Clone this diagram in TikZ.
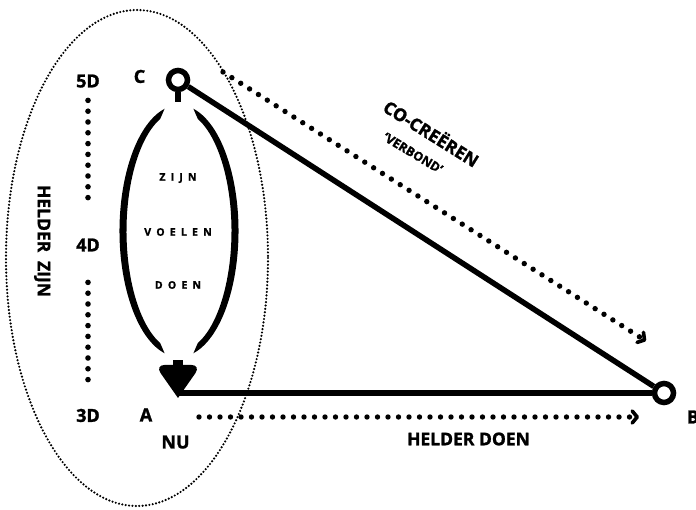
\documentclass[tikz,border=0pt]{standalone}
\usepackage{fontspec}
\setmainfont{Open Sans}
\newfontfamily\heavy{Open Sans}[BoldFeatures={FakeBold=1.4}]
\usetikzlibrary{arrows.meta}

\tikzset{
  tight/.style={inner sep=0pt, outer sep=0pt, text depth=0pt},
  lbl/.style={tight, font=\fontsize{18}{18}\heavy\bfseries, text height=12.8pt},
  mid/.style={tight, font=\fontsize{17.5}{17.5}\heavy\bfseries, text height=12.5pt},
  small/.style={tight, font=\fontsize{12.5}{12.5}\heavy\bfseries, text height=9pt},
  inner/.style={tight, font=\fontsize{10.5}{10.5}\heavy\bfseries, text height=7.5pt},
  ring/.style={circle, draw, line width=5.5pt, minimum size=19pt, inner sep=0pt, fill=white},
  thickline/.style={line width=6pt},
  finedots/.style={line width=2.4pt, line cap=round, dash pattern=on 0pt off 3.4pt},
  bigdots/.style={line width=5.6pt, line cap=round, dash pattern=on 0pt off 10.8pt},
  flowdots/.style={line width=5.4pt, line cap=round, dash pattern=on 0pt off 10.5pt},
  chev/.style={-{Straight Barb[length=5pt,width=12pt,line width=3.6pt,round]}},
}
\newcommand\trk{\kern5.2pt}

\begin{document}
\begin{tikzpicture}[x=1pt,y=-1pt]
\useasboundingbox (0,0) rectangle (696,510);
\fill[white] (0,0) rectangle (696,510);

% dotted boundary around the left column
\draw[finedots] (137,258) ellipse[x radius=131, y radius=248];

% dimension scale
\node[lbl] (d5) at (88,81) {5D};
\node[lbl] (d4) at (88,245) {4D};
\node[lbl] (d3) at (88,415.5) {3D};
\draw[bigdots, shorten <=13pt, shorten >=31pt] (d5) -- (d4);
\draw[bigdots, shorten <=31pt, shorten >=21pt] (d4) -- (d3);

\node[mid, rotate=-90] (hz) at (44,241) {HELDER\hspace{0.5em}ZIJN};

% tapered loop between C and A
\fill (179,231) ++(104:59.5 and 126)
  arc[start angle=104, end angle=256, x radius=59.5, y radius=126]
  -- ([shift={(249:52.5 and 120)}]179,231)
  arc[start angle=249, end angle=111, x radius=52.5, y radius=120] -- cycle;
\fill (179,231) ++(-76:59.5 and 126)
  arc[start angle=-76, end angle=76, x radius=59.5, y radius=126]
  -- ([shift={(69:52.5 and 120)}]179,231)
  arc[start angle=69, end angle=-69, x radius=52.5, y radius=120] -- cycle;

\node[inner] (zijn) at (178,177) {Z\trk I\trk J\trk N};
\node[inner] (voelen) at (178,232) {V\trk O\trk E\trk L\trk E\trk N};
\node[inner] (doen) at (178,285) {D\trk O\trk E\trk N};

% triangle
\coordinate (A) at (178,393);
\node[ring] (C) at (178,80) {};
\node[ring] (B) at (664,393) {};
\draw[thickline, line width=5.5pt] (C) -- (B);
\draw[thickline] (A) -- (B);
\draw[line width=6.5pt] (C) -- (178,102);

% arrow head arriving at A
\fill (173,360) rectangle (183,367);
\fill (178,398) -- (160.5,373)
  .. controls (157.5,368.5) and (159.5,365) .. (164.5,365)
  -- (191.5,365)
  .. controls (196.5,365) and (198.5,368.5) .. (195.5,373) -- cycle;

% corner labels
\node[lbl] (lc) at (139.5,76.5) {C};
\node[lbl] (la) at (146,415) {A};
\node[lbl] (nu) at (175.5,442) {NU};
\node[lbl] (lb) at (693,417) {B};

% flows
\coordinate (f1s) at (223,72);
\coordinate (f1e) at (646,341);
\draw[flowdots, chev] (f1s) -- (f1e);
\coordinate (f2s) at (199,417);
\coordinate (f2e) at (639,417);
\draw[flowdots, chev] (f2s) -- (f2e);

\node[mid, rotate=-32] (cc) at (431,134) {CO-CREËREN};
\node[small, rotate=-31] (vb) at (413,153) {‘VERBOND’};
\node[mid] (hd) at (468.5,439) {HELDER DOEN};
\end{tikzpicture}
\end{document}
